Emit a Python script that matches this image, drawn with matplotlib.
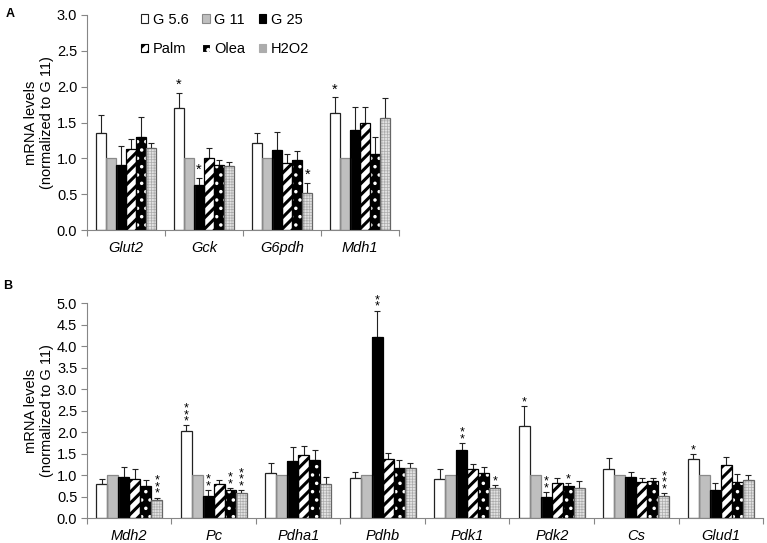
import numpy as np
import matplotlib
matplotlib.use('Agg')
import matplotlib.pyplot as plt
from matplotlib.patches import Patch

plt.rcParams['font.family'] = ['Liberation Sans', 'DejaVu Sans']
plt.rcParams['hatch.linewidth'] = 1.8

groups = ['G 5.6', 'G 11', 'G 25', 'Palm', 'Olea', 'H2O2']

# panel A
genes_a = ['Glut2', 'Gck', 'G6pdh', 'Mdh1']
a_g56 = [1.35, 1.70, 1.21, 1.63]
a_g11 = [1.0, 1.0, 1.0, 1.0]
a_g25 = [0.91, 0.63, 1.11, 1.40]
a_palm = [1.13, 1.00, 0.93, 1.50]
a_olea = [1.30, 0.91, 0.97, 1.06]
a_h2o2 = [1.14, 0.90, 0.51, 1.56]
a_g56_err = [0.25, 0.21, 0.14, 0.22]
a_g11_err = [0, 0, 0, 0]
a_g25_err = [0.26, 0.10, 0.26, 0.31]
a_palm_err = [0.14, 0.15, 0.13, 0.21]
a_olea_err = [0.27, 0.06, 0.13, 0.24]
a_h2o2_err = [0.08, 0.05, 0.15, 0.28]
a_stars = [(1, 0, '*'), (1, 2, '*'), (2, 5, '*'), (3, 0, '*')]

# panel B
genes_b = ['Mdh2', 'Pc', 'Pdha1', 'Pdhb', 'Pdk1', 'Pdk2', 'Cs', 'Glud1']
b_g56 = [0.79, 2.04, 1.05, 0.94, 0.91, 2.14, 1.15, 1.37]
b_g11 = [1.0] * 8
b_g25 = [0.97, 0.53, 1.33, 4.22, 1.59, 0.49, 0.97, 0.66]
b_palm = [0.92, 0.79, 1.47, 1.37, 1.15, 0.83, 0.84, 1.24]
b_olea = [0.76, 0.65, 1.35, 1.17, 1.06, 0.75, 0.87, 0.84]
b_h2o2 = [0.43, 0.59, 0.80, 1.16, 0.70, 0.70, 0.52, 0.88]
b_g56_err = [0.13, 0.12, 0.23, 0.13, 0.23, 0.46, 0.25, 0.12]
b_g11_err = [0] * 8
b_g25_err = [0.23, 0.13, 0.32, 0.61, 0.16, 0.12, 0.11, 0.15]
b_palm_err = [0.22, 0.10, 0.20, 0.14, 0.12, 0.10, 0.09, 0.18]
b_olea_err = [0.12, 0.05, 0.24, 0.19, 0.13, 0.06, 0.06, 0.19]
b_h2o2_err = [0.05, 0.06, 0.15, 0.12, 0.07, 0.17, 0.06, 0.12]
b_stars = [(0, 5, '***'), (1, 0, '***'), (1, 2, '**'), (1, 4, '**'), (1, 5, '***'),
           (3, 2, '**'), (4, 2, '**'), (4, 5, '*'), (5, 0, '*'), (5, 2, '**'),
           (5, 4, '*'), (6, 5, '***'), (7, 0, '*')]

# face, hatch colour, hatch, outline, hatch lw
styles = [
    ('white', 'white', None, '#222222', 1.0),
    ('#bfbfbf', '#bfbfbf', None, '#8a8a8a', 1.0),
    ('black', 'black', None, 'black', 1.0),
    ('white', 'black', '///', 'black', 2.2),
    ('black', 'white', '..', 'black', 1.3),
    ('#e2e2e2', '#acacac', '++++++', '#666666', 0.5),
]
w = 0.13


def draw(ax, genes, means, errs, stars, ymax, step, stack):
    x = np.arange(len(genes))
    for i, (m, e) in enumerate(zip(means, errs)):
        face, hcol, hatch, edge, hlw = styles[i]
        xi = x + (i - 2.5) * w
        with plt.rc_context({'hatch.linewidth': hlw}):
            bars = ax.bar(xi, m, w, color=face, edgecolor=hcol, hatch=hatch,
                          linewidth=0, zorder=2)
            for b in bars:
                if hasattr(b, 'set_hatch_linewidth'):
                    b.set_hatch_linewidth(hlw)
        ax.bar(xi, m, w, fill=False, edgecolor=edge, linewidth=0.9, zorder=3)
        e = np.array(e, dtype=float)
        keep = e > 0
        if keep.any():
            ax.errorbar(xi[keep], np.array(m)[keep],
                        yerr=[np.zeros(keep.sum()), e[keep]], fmt='none',
                        ecolor='#222222', elinewidth=0.8, capsize=2.5,
                        capthick=0.8, zorder=1)
    for g, s, t in stars:
        xs = g + (s - 2.5) * w
        ys = means[s][g] + errs[s][g]
        if stack:
            ax.text(xs, ys - ymax * 0.01, '\n'.join(t), ha='center', va='bottom',
                    fontsize=9, linespacing=0.4, clip_on=False)
        else:
            ax.text(xs, ys + ymax * 0.005, t, ha='center', va='bottom',
                    fontsize=10.5, clip_on=False)
    ax.set_xlim(-0.5, len(genes) - 0.5)
    ax.set_ylim(0, ymax)
    ax.set_yticks(np.arange(0, ymax + 0.01, step))
    ax.set_yticklabels(['%.1f' % v for v in np.arange(0, ymax + 0.01, step)])
    ax.set_xticks(np.arange(len(genes) + 1) - 0.5)
    ax.set_xticklabels([])
    ax.set_xticks(x, minor=True)
    ax.set_xticklabels(genes, minor=True, style='italic', fontsize=10.5)
    ax.tick_params(axis='x', which='major', length=4, color='#868686')
    ax.tick_params(axis='x', which='minor', length=0, pad=8)
    ax.tick_params(axis='y', length=4, color='#868686', labelsize=10.5, pad=3)
    for sp in ['top', 'right']:
        ax.spines[sp].set_visible(False)
    for sp in ['left', 'bottom']:
        ax.spines[sp].set_color('#868686')
    ax.set_ylabel('mRNA levels\n(normalized to G 11)', fontsize=10.5, labelpad=2)


fig = plt.figure(figsize=(7.67, 5.43), dpi=100)
axA = fig.add_axes([0.1134, 0.5764, 0.4068, 0.396])
axB = fig.add_axes([0.1134, 0.0455, 0.8814, 0.396])

draw(axA, genes_a, [a_g56, a_g11, a_g25, a_palm, a_olea, a_h2o2],
     [a_g56_err, a_g11_err, a_g25_err, a_palm_err, a_olea_err, a_h2o2_err],
     a_stars, 3.0, 0.5, False)
draw(axB, genes_b, [b_g56, b_g11, b_g25, b_palm, b_olea, b_h2o2],
     [b_g56_err, b_g11_err, b_g25_err, b_palm_err, b_olea_err, b_h2o2_err],
     b_stars, 5.0, 0.5, True)

handles = []
for i, g in enumerate(groups):
    face, hcol, hatch, edge, hlw = styles[i]
    ec = edge if hatch is None else hcol
    handles.append(Patch(facecolor=face, edgecolor=ec, hatch=hatch, linewidth=0.8, label=g))
order = [0, 3, 1, 4, 2, 5]
axA.legend([handles[k] for k in order], [groups[k] for k in order], ncol=3,
           loc='upper left', bbox_to_anchor=(0.15, 1.045), frameon=False,
           fontsize=10.5, handlelength=0.5, handleheight=0.5, handletextpad=0.3,
           columnspacing=0.95, labelspacing=1.05, borderpad=0)

fig.text(0.008, 0.975, 'A', fontsize=9, fontweight='bold', va='center')
fig.text(0.004, 0.473, 'B', fontsize=9, fontweight='bold', va='center')

fig.savefig('out.png', dpi=100)
